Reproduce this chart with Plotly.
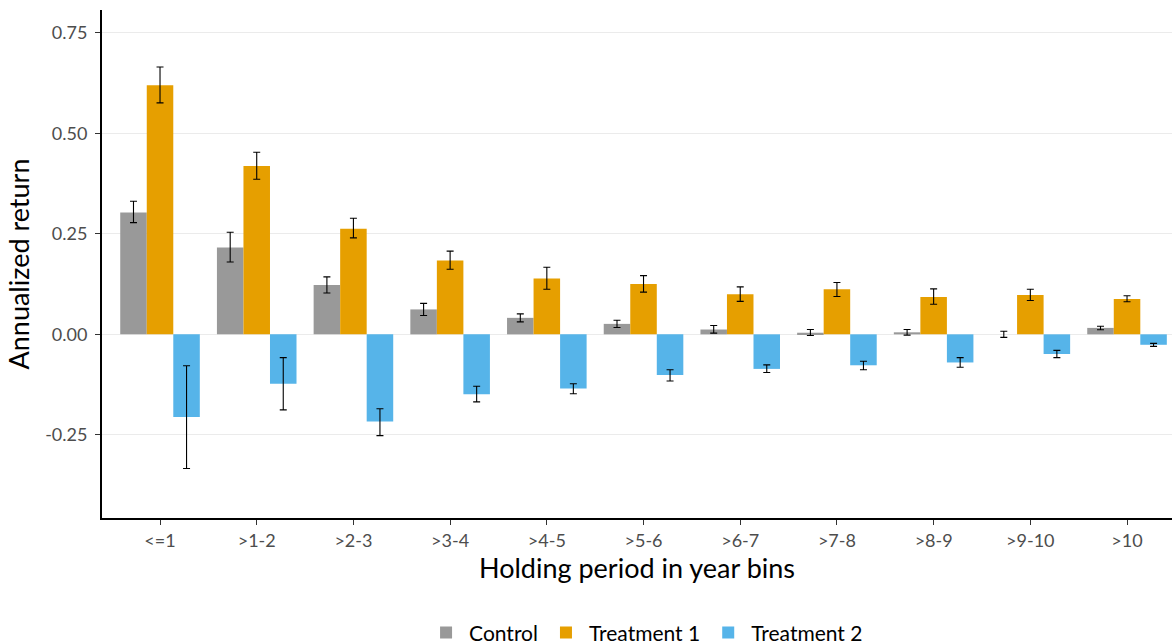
import plotly.graph_objects as go

categories = ["<=1", ">1-2", ">2-3", ">3-4", ">4-5", ">5-6", ">6-7", ">7-8", ">8-9", ">9-10", ">10"]

control = [0.303, 0.216, 0.123, 0.062, 0.041, 0.026, 0.012, 0.004, 0.005, 0.000, 0.016]
control_hi = [0.331, 0.254, 0.143, 0.077, 0.051, 0.035, 0.022, 0.012, 0.012, 0.0075, 0.020]
control_lo = [0.278, 0.180, 0.103, 0.047, 0.031, 0.017, 0.003, -0.003, -0.002, -0.0075, 0.0115]

treat1 = [0.620, 0.419, 0.263, 0.184, 0.139, 0.125, 0.0995, 0.112, 0.093, 0.098, 0.088]
treat1_hi = [0.665, 0.453, 0.289, 0.207, 0.167, 0.146, 0.118, 0.129, 0.113, 0.112, 0.096]
treat1_lo = [0.576, 0.386, 0.240, 0.162, 0.112, 0.105, 0.082, 0.094, 0.075, 0.084, 0.081]

treat2 = [-0.206, -0.123, -0.217, -0.149, -0.135, -0.101, -0.086, -0.077, -0.070, -0.049, -0.026]
treat2_hi = [-0.078, -0.058, -0.185, -0.129, -0.123, -0.088, -0.076, -0.067, -0.058, -0.040, -0.0225]
treat2_lo = [-0.334, -0.188, -0.252, -0.168, -0.148, -0.116, -0.095, -0.088, -0.082, -0.058, -0.030]

y_ticks = [-0.25, 0.0, 0.25, 0.5, 0.75]
y_tick_labels = ["-0.25", "0.00", "0.25", "0.50", "0.75"]

series = [
    ("Control", control, control_hi, control_lo, "#999999"),
    ("Treatment 1", treat1, treat1_hi, treat1_lo, "#E69F00"),
    ("Treatment 2", treat2, treat2_hi, treat2_lo, "#56B4E9"),
]

FONT = "Lato"
fig = go.Figure()
for name, vals, hi, lo, col in series:
    fig.add_trace(go.Bar(
        name=name, x=categories, y=vals, marker=dict(color=col, line=dict(width=0)),
        error_y=dict(type="data", symmetric=False,
                     array=[h - v for h, v in zip(hi, vals)],
                     arrayminus=[v - l for v, l in zip(vals, lo)],
                     color="black", thickness=1.1, width=3.5),
    ))

fig.update_layout(
    template="none",
    width=1172, height=644,
    margin=dict(l=102, r=0, t=10, b=126, autoexpand=False),
    paper_bgcolor="white", plot_bgcolor="white",
    barmode="group", bargap=0.177, bargroupgap=0,
    font=dict(family=FONT, color="black"),
    showlegend=True,
    legend=dict(orientation="h", x=0.508, xanchor="center", y=-0.226, yanchor="middle",
                font=dict(size=21, family=FONT, color="black"), traceorder="normal",
                bgcolor="rgba(0,0,0,0)", itemwidth=36),
    xaxis=dict(
        automargin=False,
        range=[-0.6, 10.465], showgrid=False, showline=True, linecolor="black", linewidth=2,
        ticks="outside", ticklen=5, tickcolor="#333333", tickwidth=1,
        tickfont=dict(size=18, color="#4d4d4d", family=FONT),
        title=dict(text="Holding period in year bins", font=dict(size=27, family=FONT), standoff=6),
    ),
    yaxis=dict(
        automargin=False,
        range=[-0.457, 0.807], tickvals=y_ticks, ticktext=y_tick_labels,
        showgrid=True, gridcolor="#ebebeb", gridwidth=1, zeroline=True, zerolinecolor="#ebebeb", zerolinewidth=1,
        showline=True, linecolor="black", linewidth=2,
        ticks="outside", ticklen=5, tickcolor="#333333", tickwidth=1, ticklabelstandoff=4,
        tickfont=dict(size=18, color="#4d4d4d", family=FONT),
        title=dict(text="Annualized return", font=dict(size=27, family=FONT), standoff=8),
    ),
)

fig.write_html(
    "out.html",
    config={"displayModeBar": False},
    post_script="document.body.style.margin='0';document.body.style.overflow='hidden';",
)
